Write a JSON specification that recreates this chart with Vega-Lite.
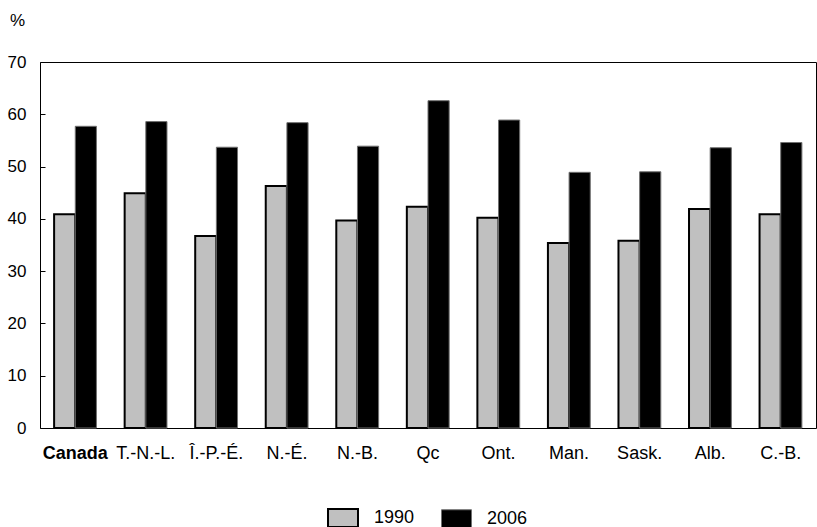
{
  "$schema": "https://vega.github.io/schema/vega-lite/v6.json",
  "width": 776,
  "height": 366,
  "autosize": {"type": "none"},
  "padding": {"left": 40, "top": 62, "right": 1, "bottom": 99},
  "background": "white",
  "config": {
    "font": "Liberation Sans",
    "view": {"stroke": "black", "strokeWidth": 1},
    "axis": {"grid": false, "domain": false, "labelColor": "black", "tickColor": "black", "titleColor": "black"}
  },
  "data": {
    "values": [
      {"region": "Canada", "year": "1990", "value": 40.9},
      {"region": "Canada", "year": "2006", "value": 57.7},
      {"region": "T.-N.-L.", "year": "1990", "value": 44.9},
      {"region": "T.-N.-L.", "year": "2006", "value": 58.6},
      {"region": "Î.-P.-É.", "year": "1990", "value": 36.7},
      {"region": "Î.-P.-É.", "year": "2006", "value": 53.7},
      {"region": "N.-É.", "year": "1990", "value": 46.3},
      {"region": "N.-É.", "year": "2006", "value": 58.4},
      {"region": "N.-B.", "year": "1990", "value": 39.7},
      {"region": "N.-B.", "year": "2006", "value": 53.9},
      {"region": "Qc", "year": "1990", "value": 42.3},
      {"region": "Qc", "year": "2006", "value": 62.6},
      {"region": "Ont.", "year": "1990", "value": 40.2},
      {"region": "Ont.", "year": "2006", "value": 58.9},
      {"region": "Man.", "year": "1990", "value": 35.4},
      {"region": "Man.", "year": "2006", "value": 48.9},
      {"region": "Sask.", "year": "1990", "value": 35.8},
      {"region": "Sask.", "year": "2006", "value": 49.0},
      {"region": "Alb.", "year": "1990", "value": 41.9},
      {"region": "Alb.", "year": "2006", "value": 53.6},
      {"region": "C.-B.", "year": "1990", "value": 40.9},
      {"region": "C.-B.", "year": "2006", "value": 54.6}
    ]
  },
  "mark": {"type": "bar"},
  "encoding": {
    "x": {
      "field": "region",
      "type": "nominal",
      "sort": null,
      "scale": {"paddingInner": 0.4, "paddingOuter": 0.2},
      "axis": {
        "title": null,
        "ticks": false,
        "labelAngle": 0,
        "labelFontSize": 18,
        "labelPadding": 16,
        "labelFontWeight": {"condition": {"test": "datum.value === 'Canada'", "value": "bold"}, "value": "normal"}
      }
    },
    "xOffset": {
      "field": "year",
      "type": "nominal",
      "scale": {"paddingInner": 0, "paddingOuter": 0}
    },
    "y": {
      "field": "value",
      "type": "quantitative",
      "scale": {"domain": [0, 70], "nice": false},
      "axis": {
        "values": [0, 10, 20, 30, 40, 50, 60, 70],
        "title": "%",
        "titleAngle": 0,
        "titleFontSize": 17,
        "titleFontWeight": "normal",
        "titleAlign": "center",
        "titleBaseline": "middle",
        "titleX": -23,
        "titleY": -42,
        "labelFontSize": 17,
        "tickSize": -5,
        "labelPadding": 19
      }
    },
    "strokeWidth": {
      "field": "year",
      "type": "nominal",
      "scale": {"domain": ["1990", "2006"], "range": [2, 1]},
      "legend": null
    },
    "fill": {
      "field": "year",
      "type": "nominal",
      "scale": {"domain": ["1990", "2006"], "range": ["#c0c0c0", "#000000"]},
      "legend": {
        "orient": "none",
        "legendX": 287,
        "legendY": 440,
        "direction": "horizontal",
        "title": null,
        "symbolType": "M-1,-0.6H1V0.6H-1Z",
        "symbolSize": 900,
        "symbolStrokeWidth": 1.8,
        "labelFontSize": 18,
        "labelColor": "black",
        "labelOffset": 15,
        "columnPadding": 24
      }
    },
    "stroke": {
      "field": "year",
      "type": "nominal",
      "scale": {"domain": ["1990", "2006"], "range": ["#000000", "#707070"]},
      "legend": {
        "orient": "none",
        "legendX": 287,
        "legendY": 440,
        "direction": "horizontal",
        "title": null,
        "symbolType": "M-1,-0.6H1V0.6H-1Z",
        "symbolSize": 900,
        "symbolStrokeWidth": 1.8,
        "labelFontSize": 18,
        "labelColor": "black",
        "labelOffset": 15,
        "columnPadding": 24
      }
    }
  }
}
